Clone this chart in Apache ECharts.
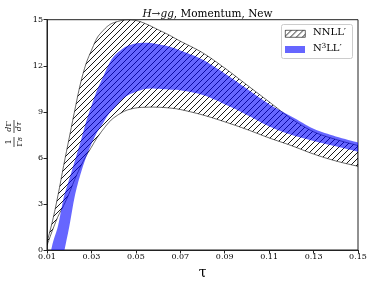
<!DOCTYPE html>
<html><head><meta charset="utf-8">
<script src="https://cdn.jsdelivr.net/npm/echarts@6/dist/echarts.min.js"></script>
<style>html,body{margin:0;padding:0;background:#fff}#c{width:374px;height:288px}</style>
</head><body><div id="c"></div>
<script>
// ---- data ----
const tau      = [0.010,0.0125,0.015,0.0175,0.020,0.0225,0.025,0.0275,0.030,0.0325,0.035,0.0375,0.040,0.045,0.050,0.055,0.060,0.065,0.070,0.080,0.090,0.100,0.110,0.120,0.130,0.140,0.150];
const nnllHigh = [0.5,1.9,3.6,5.5,7.3,9.1,10.8,12.1,13.0,13.8,14.25,14.6,14.8,14.98,14.95,14.7,14.35,14.0,13.6,12.85,11.85,10.75,9.65,8.55,7.7,7.2,6.8];
const nnllLow  = [0.3,1.3,2.2,2.9,3.7,4.6,5.4,6.1,6.7,7.3,7.8,8.25,8.6,9.05,9.25,9.3,9.3,9.25,9.15,8.8,8.35,7.85,7.3,6.8,6.25,5.8,5.45];
const n3llHigh = [-1.3,0.4,1.6,3.4,4.6,5.8,7.0,8.3,9.4,10.4,11.2,12.0,12.6,13.2,13.45,13.5,13.4,13.25,13.0,12.4,11.5,10.5,9.5,8.7,7.9,7.4,7.0];
const n3llLow  = [-6,-4.5,-2.5,-0.3,1.5,3.5,4.9,6.0,6.9,7.65,8.2,8.8,9.2,9.95,10.3,10.5,10.5,10.45,10.4,10.1,9.5,8.8,8.05,7.5,7.1,6.75,6.4];
const xMin = 0.01, xMax = 0.15, xStep = 0.02;
const yMin = 0, yMax = 15, yStep = 3;
const legendNames = ['NNLL\u2032', 'N\u00b3LL\u2032'];

const serif = '"DejaVu Serif", serif';

function hatchCanvas(){
  const c = document.createElement('canvas'); c.width = 6; c.height = 6;
  const g = c.getContext('2d');
  g.strokeStyle = '#000'; g.lineWidth = 0.9;
  g.beginPath();
  g.moveTo(-1,7); g.lineTo(7,-1);
  g.moveTo(-1,1); g.lineTo(1,-1);
  g.moveTo(5,7); g.lineTo(7,5);
  g.stroke();
  return c;
}
const hatch = {image: hatchCanvas(), repeat: 'repeat'};

// Catmull-Rom smoothing of the projected pixel points (rendering only)
function smoothPts(p){
  const out = [];
  const n = p.length, steps = 8;
  for (let i = 0; i < n - 1; i++){
    const p0 = p[Math.max(0, i-1)], p1 = p[i], p2 = p[i+1], p3 = p[Math.min(n-1, i+2)];
    for (let s = 0; s < steps; s++){
      const t = s / steps, t2 = t*t, t3 = t2*t;
      const f = k => 0.5*((2*p1[k]) + (-p0[k]+p2[k])*t + (2*p0[k]-5*p1[k]+4*p2[k]-p3[k])*t2 + (-p0[k]+3*p1[k]-3*p2[k]+p3[k])*t3);
      out.push([f(0), f(1)]);
    }
  }
  out.push(p[n-1]);
  return out;
}

function band(lo, hi, style){
  return function(params, api){
    if (params.dataIndex !== 0) return null;
    const up = [], dn = [];
    for (let i = 0; i < tau.length; i++){
      up.push(api.coord([tau[i], hi[i]]));
      dn.push(api.coord([tau[i], lo[i]]));
    }
    const pts = smoothPts(up).concat(smoothPts(dn).reverse());
    return {type: 'polygon', shape: {points: pts}, style: style};
  };
}

const chart = echarts.init(document.getElementById('c'), null, {renderer: 'canvas'});
chart.setOption({
  animation: false,
  backgroundColor: '#fff',
  title: {
    text: '{i|H}\u2192{i|gg}, Momentum, New',
    left: 202.5, top: 4, textAlign: 'center',
    textStyle: {fontFamily: serif, fontSize: 10.5, fontWeight: 'normal', color: '#000',
      rich: {i: {fontFamily: serif, fontSize: 10.5, fontStyle: 'italic', color: '#000'}}}
  },
  grid: {left: 47, right: 16, top: 19.7, bottom: 38, show: true, borderColor: '#222', borderWidth: 1, backgroundColor: 'transparent'},
  xAxis: {
    type: 'value', min: xMin, max: xMax, interval: xStep,
    name: '\u03c4', nameLocation: 'middle', nameGap: 15,
    nameTextStyle: {fontFamily: serif, fontSize: 14, color: '#000'},
    axisLine: {show: true, lineStyle: {color: '#222', width: 1}},
    axisTick: {show: true, length: 3.5, lineStyle: {color: '#222'}},
    axisLabel: {fontFamily: serif, fontSize: 8, color: '#000', margin: 3,
      formatter: v => v.toFixed(2)},
    splitLine: {show: false}
  },
  yAxis: {
    type: 'value', min: yMin, max: yMax, interval: yStep,
    axisLine: {show: true, lineStyle: {color: '#222', width: 1}},
    axisTick: {show: true, length: 3.5, lineStyle: {color: '#222'}},
    axisLabel: {fontFamily: serif, fontSize: 8, color: '#000', margin: 4},
    splitLine: {show: false}
  },
  series: [
    {type: 'custom', name: legendNames[0], clip: true, z: 2,
     renderItem: band(nnllLow, nnllHigh, {fill: hatch, stroke: '#000', lineWidth: 0.6}),
     data: tau.map((t, i) => [t, nnllLow[i], nnllHigh[i]]), encode: {x: 0, y: [1, 2]}},
    {type: 'custom', name: legendNames[1], clip: true, z: 3,
     renderItem: band(n3llLow, n3llHigh, {fill: 'rgba(0,0,255,0.6)'}),
     data: tau.map((t, i) => [t, n3llLow[i], n3llHigh[i]]), encode: {x: 0, y: [1, 2]}}
  ],
  graphic: [
    {type: 'rect', left: 281, top: 24, z: 10, shape: {width: 71, height: 34, r: 2},
     style: {fill: 'rgba(255,255,255,0.8)', stroke: '#ccc', lineWidth: 1}},
    {type: 'rect', left: 285, top: 30, z: 11, shape: {width: 20, height: 7},
     style: {fill: hatch, stroke: '#000', lineWidth: 0.6}},
    {type: 'rect', left: 285, top: 46, z: 11, shape: {width: 20, height: 7},
     style: {fill: 'rgba(0,0,255,0.6)'}},
    {type: 'text', left: 313, top: 27, z: 11,
     style: {text: legendNames[0], fontFamily: serif, fontSize: 10, fill: '#000'}},
    {type: 'text', left: 313, top: 43, z: 11,
     style: {text: 'N{s|3}LL\u2032', fontFamily: serif, fontSize: 10, fill: '#000',
       rich: {s: {fontFamily: serif, fontSize: 7, verticalAlign: 'top', padding: [0,0,4,0], fill: '#000'}}}},
    {type: 'group', x: 14, y: 133, rotation: Math.PI / 2, z: 10,
     children: [
       {type: 'line', shape: {x1: -14, y1: 0, x2: -4, y2: 0}, style: {stroke: '#000', lineWidth: 0.7}},
       {type: 'line', shape: {x1: 0, y1: 0, x2: 13, y2: 0}, style: {stroke: '#000', lineWidth: 0.7}},
       {type: 'text', x: -9, y: -1, style: {text: '1', fontFamily: serif, fontSize: 8, fill: '#000', align: 'center', verticalAlign: 'bottom'}},
       {type: 'text', x: -9, y: 1, style: {text: '\u0393{s|B}', fontFamily: serif, fontSize: 8, fill: '#000', align: 'center', verticalAlign: 'top',
          rich: {s: {fontFamily: serif, fontSize: 5.5, fontStyle: 'italic', verticalAlign: 'bottom', padding: [3,0,0,0], fill: '#000'}}}},
       {type: 'text', x: 6.5, y: -1, style: {text: '{i|d}\u0393', fontFamily: serif, fontSize: 8, fill: '#000', align: 'center', verticalAlign: 'bottom',
          rich: {i: {fontFamily: serif, fontSize: 8, fontStyle: 'italic', fill: '#000'}}}},
       {type: 'text', x: 6.5, y: 1, style: {text: 'd\u03c4', fontFamily: serif, fontSize: 8, fontStyle: 'italic', fill: '#000', align: 'center', verticalAlign: 'top'}}
     ]}
  ]
});
</script>
</body></html>
